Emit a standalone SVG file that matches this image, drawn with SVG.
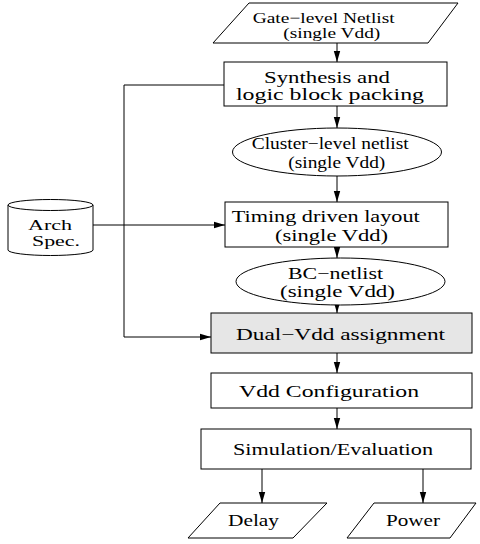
<svg xmlns="http://www.w3.org/2000/svg" width="480" height="544" viewBox="0 0 480 544">
<style>
.s{fill:#fff;stroke:#000;stroke-width:1}
.g{fill:#e6e6e6;stroke:#000;stroke-width:1}
.t{font-family:"Liberation Serif","Times New Roman",serif;font-size:16px;fill:#000}
.b{font-size:17px}
.m{font-size:15px}
.c{fill:none;stroke:#000;stroke-width:1}
</style>
<defs>
<marker id="ah" markerWidth="12" markerHeight="8" refX="11" refY="4" orient="auto" markerUnits="userSpaceOnUse">
<path d="M0,0.8 L11,4 L0,7.2 Z" fill="#000"/>
</marker>
</defs>
<rect width="480" height="544" fill="#fff"/>
<g id="connectors">
<path class="c" d="M337,43 V62" marker-end="url(#ah)"/>
<path class="c" d="M337,106 V128" marker-end="url(#ah)"/>
<path class="c" d="M337,176 V202" marker-end="url(#ah)"/>
<path class="c" d="M337,247 V258" marker-end="url(#ah)"/>
<path class="c" d="M337,304 V313" marker-end="url(#ah)"/>
<path class="c" d="M337,353 V373" marker-end="url(#ah)"/>
<path class="c" d="M337,408 V429" marker-end="url(#ah)"/>
<path class="c" d="M262,469 V503" marker-end="url(#ah)"/>
<path class="c" d="M423,469 V503" marker-end="url(#ah)"/>
<path class="c" d="M93,225 H225" marker-end="url(#ah)"/>
<path class="c" d="M225,85 H124 V337 H211" marker-end="url(#ah)"/>
</g>
<g id="gate-netlist">
<polygon class="s" points="249,3 458,3 428,43 213,43"/>
<text class="t m" x="252.7" y="23" textLength="142" lengthAdjust="spacingAndGlyphs">Gate−level Netlist</text>
<text class="t m" x="283.3" y="38" textLength="97" lengthAdjust="spacingAndGlyphs">(single Vdd)</text>
</g>
<g id="synthesis">
<rect class="s" x="224" y="62" width="223" height="44"/>
<text class="t" x="264" y="83" textLength="126" lengthAdjust="spacingAndGlyphs">Synthesis and</text>
<text class="t" x="236" y="100" textLength="188" lengthAdjust="spacingAndGlyphs">logic block packing</text>
</g>
<g id="cluster-netlist">
<ellipse class="s" cx="337" cy="152" rx="104.5" ry="24"/>
<text class="t" x="251.7" y="149" textLength="157" lengthAdjust="spacingAndGlyphs">Cluster−level netlist</text>
<text class="t" x="288.3" y="168" textLength="97" lengthAdjust="spacingAndGlyphs">(single Vdd)</text>
</g>
<g id="arch-spec">
<path class="s" d="M8,205 V250 A42.5,5.5 0 0 0 93,250 V205"/>
<ellipse class="s" cx="50.5" cy="205" rx="42.5" ry="5.5"/>
<text class="t m" x="28" y="230" textLength="44" lengthAdjust="spacingAndGlyphs">Arch</text>
<text class="t m" x="32" y="246" textLength="48" lengthAdjust="spacingAndGlyphs">Spec.</text>
</g>
<g id="timing-layout">
<rect class="s" x="225" y="202" width="223" height="45"/>
<text class="t b" x="231.7" y="222" textLength="188" lengthAdjust="spacingAndGlyphs">Timing driven layout</text>
<text class="t b" x="275" y="241" textLength="113" lengthAdjust="spacingAndGlyphs">(single Vdd)</text>
</g>
<g id="bc-netlist">
<ellipse class="s" cx="340.5" cy="281.5" rx="104.5" ry="23.5"/>
<text class="t" x="288" y="279" textLength="95" lengthAdjust="spacingAndGlyphs">BC−netlist</text>
<text class="t" x="280" y="297" textLength="115" lengthAdjust="spacingAndGlyphs">(single Vdd)</text>
</g>
<g id="dual-vdd">
<rect class="g" x="211" y="313" width="261" height="40"/>
<text class="t b" x="236" y="340" textLength="209" lengthAdjust="spacingAndGlyphs">Dual−Vdd assignment</text>
</g>
<g id="vdd-config">
<rect class="s" x="211" y="373" width="261" height="35"/>
<text class="t b" x="239" y="397" textLength="180" lengthAdjust="spacingAndGlyphs">Vdd Configuration</text>
</g>
<g id="simulation">
<rect class="s" x="201" y="429" width="270" height="40"/>
<text class="t b" x="233" y="455" textLength="200" lengthAdjust="spacingAndGlyphs">Simulation/Evaluation</text>
</g>
<g id="delay">
<polygon class="s" points="220,503 327,503 293,538 188,538"/>
<text class="t b" x="228" y="526" textLength="51" lengthAdjust="spacingAndGlyphs">Delay</text>
</g>
<g id="power">
<polygon class="s" points="374,503 476,503 450,538 347,538"/>
<text class="t b" x="386" y="526" textLength="54" lengthAdjust="spacingAndGlyphs">Power</text>
</g>
</svg>
